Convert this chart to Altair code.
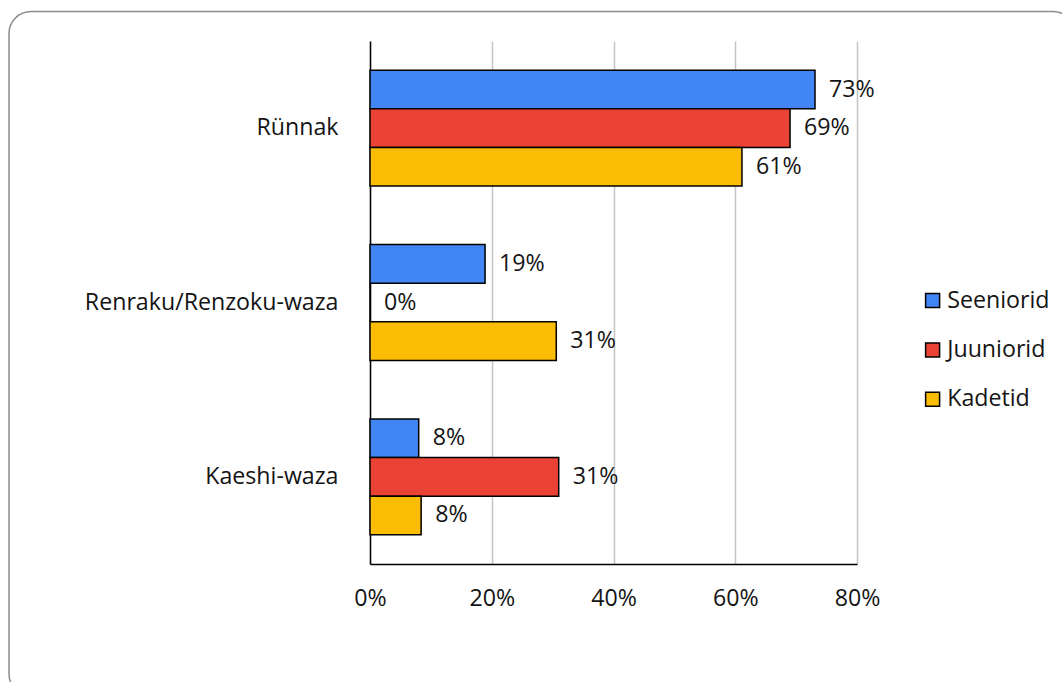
import altair as alt
import pandas as pd

categories = ["Rünnak", "Renraku/Renzoku-waza", "Kaeshi-waza"]
series_names = ["Seeniorid", "Juuniorid", "Kadetid"]
seeniorid = [0.731, 0.189, 0.080]
juuniorid = [0.690, 0.000, 0.310]
kadetid = [0.611, 0.306, 0.084]
colors = ["#4285F4", "#EA4335", "#FBBC04"]
x_ticks = [0, 0.2, 0.4, 0.6, 0.8]

rows = []
for name, vals in zip(series_names, [seeniorid, juuniorid, kadetid]):
    for cat, v in zip(categories, vals):
        rows.append({"category": cat, "series": name, "value": v})
df = pd.DataFrame(rows)

FONT = "Open Sans"
FS = 23.2
TXT = "#141414"

base = alt.Chart(df).encode(
    y=alt.Y(
        "category:N",
        sort=categories,
        scale=alt.Scale(paddingInner=0.336, paddingOuter=0.168),
        axis=alt.Axis(
            title=None, ticks=False, tickSize=0, labelPadding=32, labelLimit=500,
            labelFont=FONT, labelFontSize=FS, labelColor=TXT,
            domainColor="black", domainWidth=1.5, grid=False,
        ),
    ),
    yOffset=alt.YOffset("series:N", sort=series_names),
    x=alt.X(
        "value:Q",
        scale=alt.Scale(domain=[0, 0.8], nice=False),
        axis=alt.Axis(
            title=None, values=x_ticks, format=".0%", ticks=False, tickSize=0,
            labelPadding=23, labelFlush=False, labelOverlap=False,
            labelFont=FONT, labelFontSize=FS, labelColor=TXT,
            grid=True, gridColor="#c4c4c4", gridWidth=1.5,
            domainColor="black", domainWidth=1.5,
        ),
    ),
)

bars = base.mark_bar(stroke="black", strokeWidth=1.5, opacity=1).encode(
    color=alt.Color(
        "series:N",
        sort=series_names,
        scale=alt.Scale(domain=series_names, range=colors),
        legend=alt.Legend(
            title=None, orient="none", legendX=551, legendY=248,
            symbolType="square", symbolSize=196, symbolStrokeColor="black",
            symbolStrokeWidth=1.5, symbolOpacity=1,
            labelFont=FONT, labelFontSize=FS, labelColor=TXT,
            rowPadding=25.3, labelOffset=3,
        ),
    )
)

labels = base.mark_text(
    align="left", baseline="middle", dx=14, font=FONT, fontSize=FS, color=TXT
).encode(text=alt.Text("value:Q", format=".0%"))

border = alt.Chart(alt.Data(values=[{"a": 1}])).mark_rect(
    filled=False, stroke="#8c8c8c", strokeWidth=1.5, cornerRadius=22
).encode(
    x=alt.value(-361), x2=alt.value(705),
    y=alt.value(-29.5), y2=alt.value(655),
)

chart = alt.layer(border, bars, labels).properties(
    width=487, height=523,
    autosize=alt.AutoSizeParams(type="none"),
    padding={"left": 370, "top": 41, "right": 205, "bottom": 118},
    background="white",
).configure_view(stroke=None)

chart.save("out.html", embed_options={"renderer": "svg", "actions": False})
